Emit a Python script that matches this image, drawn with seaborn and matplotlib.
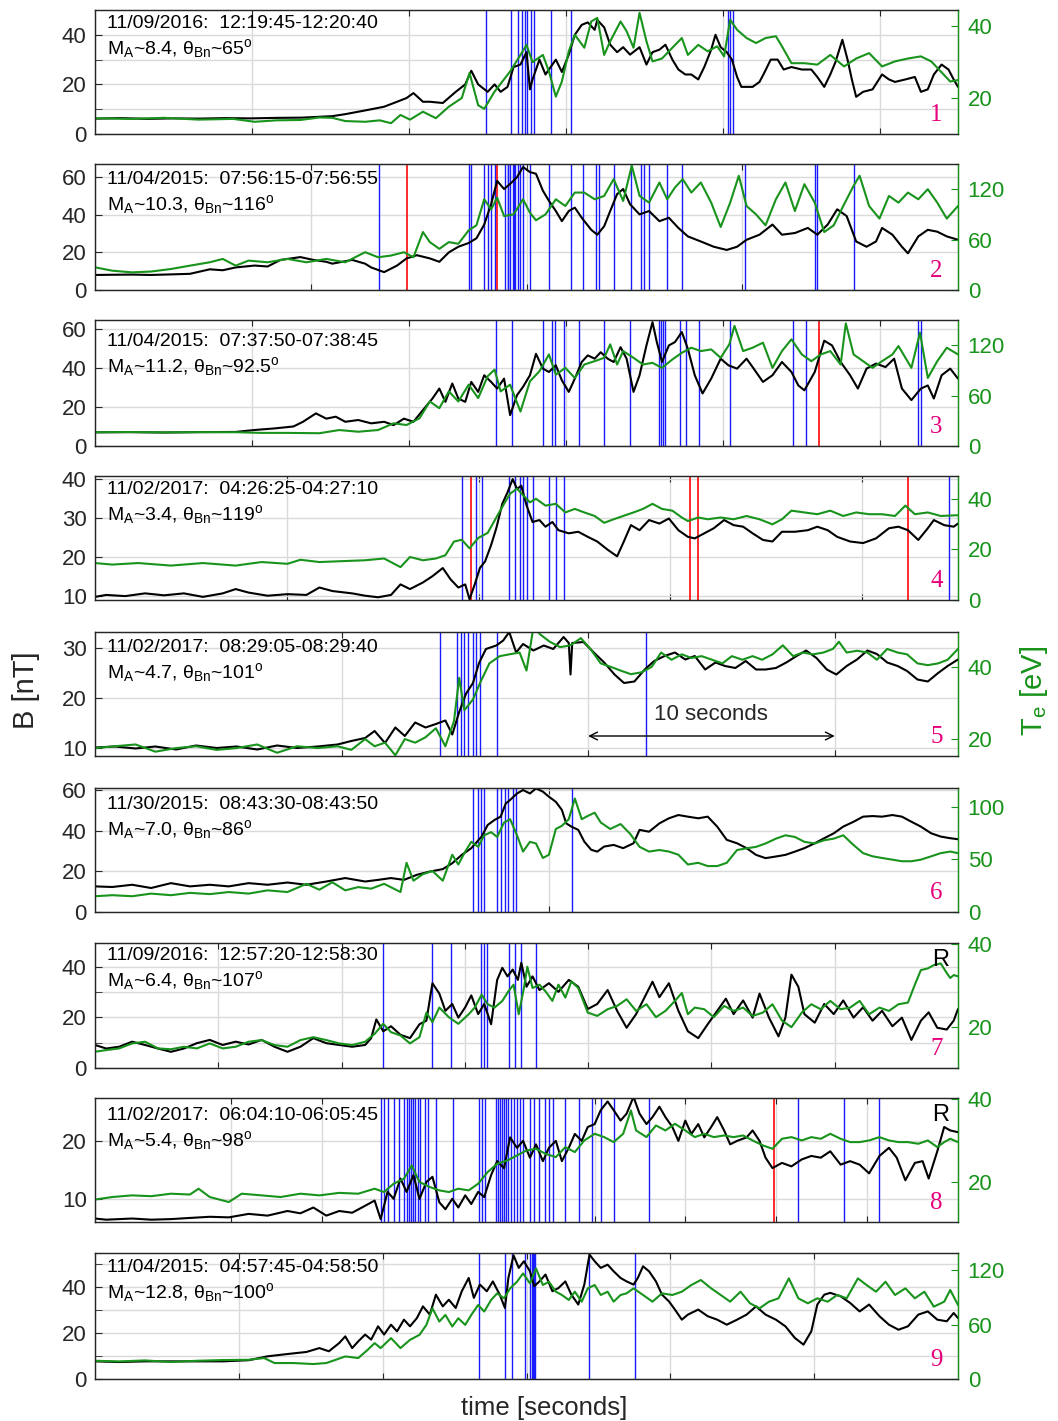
import numpy as np
import matplotlib
matplotlib.use("Agg")
import matplotlib.pyplot as plt
import seaborn as sns

sns.set_style("white")
plt.rcParams["font.family"] = ["Liberation Sans", "DejaVu Sans"]
plt.rcParams["mathtext.fontset"] = "custom"
plt.rcParams["mathtext.rm"] = "Liberation Sans"
plt.rcParams["mathtext.it"] = "Liberation Sans:italic"

GREEN = "#18931b"
BLUE = "#1a1aff"
RED = "#ff1a1a"
MAGENTA = "#e4007c"
GRID = "#dadada"

# ---- event labels -------------------------------------------------------
headers = ["11/09/2016:  12:19:45-12:20:40", "11/04/2015:  07:56:15-07:56:55",
           "11/04/2015:  07:37:50-07:38:45", "11/02/2017:  04:26:25-04:27:10",
           "11/02/2017:  08:29:05-08:29:40", "11/30/2015:  08:43:30-08:43:50",
           "11/09/2016:  12:57:20-12:58:30", "11/02/2017:  06:04:10-06:05:45",
           "11/04/2015:  04:57:45-04:58:50"]
mach = ["8.4", "10.3", "11.2", "3.4", "4.7", "7.0", "6.4", "5.4", "12.8"]
theta = ["65", "116", "92.5", "119", "101", "86", "107", "98", "100"]
durations = [55, 40, 55, 45, 35, 19, 70, 95, 60]   # window length [s]

# ---- magnetic field |B| [nT]: (percent of window, value) ------------------
b1 = [(0,6.2),(3,6.4),(6,6.1),(9,6.3),(12,6.2),(15,6.4),(18,6.3),(21,6.5),(24,6.6),(27.5,7.2),(29,8.0),(31.3,9.5),(33.5,11),(35,13),(36.1,14.5),(36.9,16.5),(38,13),(38.8,13),(40.3,12.5),(41.8,17),(42.9,20),(43.6,25.5),(44.4,20),(45.5,17),(46.3,20),(47,17),(47.8,19),(48.5,27),(49.3,28),(50,33),(50.4,18),(50.7,22),(51.5,30),(52.2,24),(53.4,30),(54.1,25),(54.9,32),(55.6,40),(56.4,44),(57.1,45),(57.9,42),(58.2,46),(59,43),(59.7,36),(60.5,33),(61.2,35),(62,32),(63.1,35),(63.9,28),(64.6,33),(65.4,34),(66.1,36),(66.9,30),(67.6,26),(68.4,24),(69.1,24),(69.9,22),(70.6,27),(71.4,34),(71.9,40),(72.5,35),(73.2,33),(73.8,30),(74.4,23),(74.9,19),(76.2,19),(77,21),(77.6,25),(78.3,30),(79.1,30),(79.8,26),(80.7,27),(81.9,26),(83,26),(83.7,23),(84.5,19),(85.2,24),(85.8,29),(86.6,38),(87.2,30),(87.7,22),(88.2,15),(89,17),(90.1,18),(91.2,24),(92,22),(92.7,21),(93.9,22),(95,23),(95.7,17),(96.5,18),(97.2,24),(98.1,28),(98.9,26),(99.5,22),(100,19)]
b2 = [(0,8),(2,8.1),(4.3,8.2),(6.5,8.0),(8.8,8.3),(11,8.6),(13.3,11),(14.8,10.5),(16.3,12),(18.5,13),(20,12.5),(21.5,16),(23.8,17.5),(25.3,16),(26.8,15),(27.5,14),(29.8,16),(31.3,14),(32,12),(33.5,9.5),(35,13),(36.1,16.8),(37.3,18.5),(38.8,16.8),(39.9,15),(41,20),(42.1,23),(43.3,25),(44.2,27.5),(45.1,34.8),(45.9,45.6),(46.6,58),(47.4,53.7),(48.1,56.4),(48.9,60),(49.6,65.4),(50.4,62.7),(51.1,61.8),(51.9,52.8),(52.6,47.4),(53.4,42),(54.1,36.6),(54.9,42),(55.6,43.8),(56.4,38.4),(57.5,32),(58.2,29.4),(59,33.9),(59.7,42),(60.5,51),(61.2,53.7),(62,45.6),(63.1,40.2),(64.2,42),(65.4,36.6),(66.5,38.4),(67.6,33),(68.7,28.5),(70.2,25.8),(71.7,23),(73.2,21.3),(74.4,23),(75.5,26.7),(77,29.4),(78.5,34.8),(79.6,29.4),(81.1,30.3),(82.6,33),(83.7,29.4),(84.9,34.8),(86,42.9),(87.1,39.3),(88.2,25.8),(89.4,23),(90.5,25.8),(91.2,33),(92.4,29.4),(93.5,23),(94.2,19.5),(95.4,28.5),(96.5,32),(97.6,31),(98.7,28.5),(100,26.7)]
b3 = [(0,7),(4,7.1),(8,6.9),(12,7.1),(16.3,7.2),(18.5,8.2),(20.8,9),(23,10),(24.1,12.4),(25.6,16.7),(26.8,14),(27.9,15),(29,12.4),(30.5,13.3),(32,11.6),(33.5,12.4),(34.6,10.7),(35.8,14),(36.9,12.4),(38,18.4),(39.1,24.3),(39.9,29.4),(40.6,22.6),(41.4,32),(42.1,24.3),(42.9,22.6),(43.6,32.8),(44.4,27.7),(45.1,36.2),(45.9,32.8),(46.6,29.4),(47.4,34.5),(48.1,15.8),(48.9,26),(49.6,30.3),(50.4,36.2),(51.1,47.2),(51.9,39.6),(52.6,37.9),(53.4,41.3),(54.1,33.6),(54.9,27.7),(55.6,34.5),(56.4,43),(57.1,46.4),(57.9,44.7),(58.6,48),(59.4,44.7),(60.1,43),(60.9,50.6),(61.6,44.7),(62.4,27.7),(63.1,36.2),(63.9,51.5),(64.6,63.4),(65.1,53.2),(65.7,43),(66.5,51.5),(67.2,53.2),(68,58.3),(68.7,49.7),(69.5,36.2),(70.4,26.9),(71.4,34.5),(72.5,44.7),(73.4,41.3),(74.4,39.6),(75.5,44.7),(76.2,40.4),(77.4,32.8),(78.5,36.2),(79.6,43),(80.7,37.9),(81.5,31),(82.2,28.5),(83.4,37.9),(84.5,53.9),(85.4,51.5),(86.4,43),(87.5,36.2),(88.4,29.4),(89.4,39.6),(90.5,42.2),(91.6,40.4),(92.6,44.7),(93.5,29.4),(94.6,23.5),(95.7,29.4),(96.5,31),(97.2,24.3),(98.1,36.2),(99.1,39.6),(100,34.5)]
b4 = [(0,9.8),(1.3,10.3),(3.5,10),(5.8,10.7),(8,10.2),(10.3,10.7),(12.5,9.8),(14.8,10.7),(16.3,11.8),(17.8,10.9),(20,10.1),(22.3,10.5),(24.5,10.3),(26,12.2),(27.5,11.3),(29.8,10.7),(31.3,10.1),(32.8,9.7),(34.3,10.3),(35.4,13),(36.5,11.8),(38,13.5),(39.1,15.1),(40.3,17.2),(41.2,14.3),(42.1,12.2),(42.9,13),(43.4,9.2),(44,13),(44.6,17.2),(45.2,18.9),(45.9,23.1),(46.5,27.4),(47.2,33.7),(47.8,36.6),(48.4,40),(48.9,37.5),(49.4,38.3),(50,33.3),(50.7,29),(51.5,29.5),(52.2,27.8),(53,29),(53.7,26.9),(54.9,26.1),(56,26.5),(57.1,25.2),(58.2,24),(59.4,21.9),(60.5,20.2),(61.2,23.6),(62.1,28.2),(63.1,26.9),(64.2,29.5),(65.4,28.6),(66.5,29.9),(67.6,26.9),(68.7,25.2),(69.5,24.8),(70.6,26.1),(71.7,27.4),(72.9,29.5),(74,28.2),(75.1,27.8),(76.2,26.1),(77.4,24.4),(78.5,24),(79.6,26.5),(81.1,26.5),(82.6,26.9),(83.7,27.8),(84.9,26.9),(86,25.2),(87.5,24),(89,23.6),(90.5,24.8),(92,27.4),(93.1,27.8),(94.2,26.9),(95.4,24.4),(96.5,27.4),(97.2,29.5),(98.4,28.2),(99.5,27.8),(100,28.6)]
b5 = [(0,10.1),(2.3,10.3),(4.7,9.9),(7,10.3),(9.4,9.7),(11.7,10.5),(14.1,10),(16.4,10.3),(18.8,9.7),(21.1,10.5),(23.4,10),(25.8,10.3),(28.1,10.7),(29.7,11.4),(31.3,12),(32.4,13.4),(33.6,11),(34.8,14.1),(35.9,12.4),(37.1,15.1),(38.3,14.1),(39.5,14.8),(40.6,15.5),(41.4,12.7),(42.2,17.2),(43,20.9),(43.8,23),(44.5,27),(45.3,29.8),(46.5,30.5),(47.3,31.5),(48,33.2),(48.8,29.1),(49.6,30.8),(50.8,29.5),(52,30.5),(53.1,29.8),(54.3,32.2),(54.9,31),(55.1,24.7),(55.3,31),(56.6,31.2),(57.8,29.1),(59,27.1),(60.2,24.7),(61.3,23),(62.5,23.3),(63.7,25.7),(64.8,27.4),(66,28.4),(67.2,29.1),(68.4,27.7),(69.5,28.4),(70.7,25.7),(71.9,27.1),(73,26.4),(74.2,26),(75.4,27.4),(76.6,25.7),(77.7,25.7),(78.9,26),(80.1,27.1),(81.3,28.4),(82.4,29.5),(83.6,28),(84.8,25.7),(85.9,24.7),(87.1,26.4),(88.3,27.7),(89.5,29.5),(90.6,28.8),(91.8,27.1),(93,26.4),(94.1,25.4),(95.3,23.7),(96.5,23.3),(97.7,25),(98.8,26.4),(100,27.7)]
b6 = [(0,12.6),(2,12.3),(4.3,13.4),(6.5,11.8),(8.8,14.2),(11,12.6),(13.3,13.4),(15.5,12.6),(17.8,14.2),(20,13.4),(22.3,14.5),(24.5,13.4),(26.8,15),(29,16.7),(31.3,15),(32.8,15.8),(34.3,16.7),(35.8,15.8),(37.3,18.3),(38.8,19.9),(40.3,21.1),(41.4,24),(42.5,28.1),(43.6,31.4),(44.8,37.1),(45.5,42.8),(46.3,45.3),(47,46.9),(47.6,53.4),(48.1,55.1),(48.9,58.3),(49.6,60),(50.4,58.3),(51.1,60.8),(51.9,59.2),(52.6,56.7),(53.4,54.2),(54.1,50.2),(54.6,43.6),(55.2,42),(56,40.4),(56.7,34.6),(57.5,30.6),(58.2,29.7),(59,32.2),(60.1,33),(61.2,31.4),(62.4,33.8),(63.1,40.4),(64.2,39.5),(65.4,43.6),(66.5,46.1),(67.6,47.7),(68.7,46.9),(69.9,46.1),(71,46.9),(72.1,42),(73.2,35.5),(74.4,33.8),(75.5,31.4),(76.6,28.1),(77.7,26.5),(78.9,27.3),(80,28.1),(81.1,29.7),(82.2,31.4),(83.4,33.8),(84.5,36.3),(85.6,38.7),(86.7,42),(87.9,44.4),(89,46.9),(90.1,47.2),(91.2,46.9),(92.4,47.7),(93.5,46.9),(94.6,44.4),(95.7,42),(96.9,38.7),(98,37.1),(99.1,36.3),(100,35.8)]
b7 = [(0,9.1),(1.3,7.7),(2.8,8.4),(4.3,10.4),(5.8,9.1),(7.3,7.7),(8.8,6.4),(10.3,7.7),(11.8,9.8),(13.3,11.1),(14.8,9.1),(16.3,10.4),(17.8,9.3),(19.3,11.1),(20.8,8.4),(22.3,6.4),(23.8,8.4),(25.3,11.8),(26.8,9.8),(28.3,9.1),(29.8,8.4),(31.3,9.1),(32,11.8),(32.6,19.2),(33.4,14.5),(34.3,16.5),(35.4,13.1),(36.5,11.8),(37.6,17.3),(38.4,18.7),(39.1,33.5),(39.9,29.4),(40.6,22.6),(41.4,25.3),(42.1,19.9),(42.9,24),(43.6,28.7),(44.4,21.3),(45.1,25.3),(45.9,17.3),(46.6,34.8),(47.2,39.6),(47.8,36.2),(48.4,38.9),(49,34.8),(49.4,41.6),(50,32.1),(50.7,36.2),(51.5,30.8),(52.6,33.5),(53.7,30.1),(54.9,34.8),(56,32.1),(57.1,23.3),(58.2,25.3),(59.4,30.8),(60.5,22.6),(61.6,15.9),(62.7,21.3),(63.9,29.4),(64.6,34.1),(65.4,28),(66.5,33.5),(67.6,22.6),(68.7,14.5),(69.9,11.8),(71,17.3),(72.1,22.6),(73.1,27.4),(74,21.3),(75.1,26.7),(76.2,19.9),(77,29.4),(78.1,19.9),(79.2,12.5),(80,19.9),(80.7,36.9),(81.5,32.1),(82.2,21.3),(83.4,17.9),(84.5,25.3),(85.6,21.3),(86.7,26.7),(87.9,19.9),(89,24),(90.1,18.7),(91.2,22.6),(92.4,16.5),(93.5,19.9),(94.6,11.1),(95.7,18.7),(96.6,22),(97.6,15.9),(98.7,15.2),(99.5,18.7),(100,23.3)]
b8 = [(0,6.6),(1.3,6.4),(4.3,6.6),(6.5,6.4),(8.8,6.5),(11,6.7),(13.3,6.9),(15.5,6.8),(17.8,7.4),(20,7.1),(22.3,7.9),(23.8,7.5),(25.3,8.5),(26.8,7.1),(28.3,7.9),(29.8,7.6),(31.3,8.8),(32.4,9.7),(33.1,6.5),(33.9,11.2),(34.6,10),(35.4,13.5),(36.1,11.2),(36.9,14.1),(37.6,10),(38.4,12.9),(39.1,13.8),(39.9,9.4),(40.6,8.2),(41.4,10),(42.1,8.5),(42.9,10.6),(43.6,9.1),(44.4,11.2),(45.1,10.3),(45.9,14.1),(46.6,16.5),(47.4,15.3),(48.1,20.6),(48.9,18.8),(49.6,20),(50.4,17.1),(51.1,19.4),(51.9,16.5),(52.6,18.8),(53.4,20),(54.1,16.5),(54.9,18.8),(55.6,21.2),(56.4,20),(57.1,22.4),(57.9,22.9),(58.6,25.3),(59.4,26.8),(60.1,25.3),(60.9,23.5),(61.6,24.7),(62.4,27.6),(63.1,24.7),(63.9,22.9),(64.6,24.1),(65.4,25.9),(66.1,24.1),(66.9,22.4),(67.6,20),(68.4,23.5),(69.1,21.2),(69.9,22.9),(70.6,20.6),(71.4,22.4),(72.1,24.1),(72.9,21.8),(73.6,19.4),(74.4,20),(75.5,20.6),(76.2,21.8),(77,20),(77.7,17.1),(78.5,15.3),(79.6,16.2),(80.7,15.6),(81.9,16.8),(83,17.4),(84.1,17.1),(85.2,18.2),(86.4,15.9),(87.5,16.5),(88.6,15.9),(89.7,14.4),(90.9,17.4),(92,18.8),(92.9,17.1),(93.9,13.2),(95,16.2),(95.9,16.5),(96.6,13.5),(97.6,18.2),(98.4,22.4),(99.1,21.8),(100,21.5)]
b9 = [(0,7.7),(2.8,7.4),(5.8,7.7),(8.8,7.7),(11.8,7.7),(14.8,7.7),(17.8,8.2),(20,9.9),(22.3,10.9),(24.5,11.8),(26,13.5),(27.1,12.1),(28.3,15.7),(29,18.6),(29.8,13.5),(30.5,16.4),(31.3,19.4),(32,17.2),(32.8,23),(33.5,19.4),(34.3,23.7),(35,20.8),(35.8,25.9),(36.5,23),(37.3,26.6),(38,31.7),(38.8,28.1),(39.5,36.8),(40.3,31.7),(41,34.6),(41.8,31),(42.5,38.3),(43.3,44.1),(43.9,35.4),(44.6,41.2),(45.4,38.3),(46.1,42.6),(46.9,36.8),(47.5,31),(47.9,44.1),(48.5,54),(49.1,48.5),(49.7,51.4),(50.4,47),(50.9,40.5),(51.5,42.6),(52.2,45.6),(53,38.3),(53.7,39.7),(54.5,42.6),(55.2,36.8),(56,32.5),(56.7,41.2),(57.3,54.3),(57.9,51.4),(58.6,48.5),(59.4,49.9),(60.1,47),(60.9,44.1),(61.6,42.6),(62.4,41.2),(62.9,44.1),(63.5,49.2),(64.2,47),(65,42.6),(65.7,36.8),(66.5,33.9),(67.2,30.3),(68,25.9),(68.7,28.1),(69.9,30.3),(71,27.4),(72.1,25.9),(73.2,23.7),(74.4,25.9),(75.5,28.1),(76.6,31.7),(77.7,28.1),(78.9,25.9),(80,23),(81.1,17.9),(82.1,15),(83,20.8),(83.7,32.5),(84.5,36.8),(85.2,37.6),(86.4,36.1),(87.5,33.2),(88.6,29.5),(89.7,32.5),(90.9,27.4),(92,23.7),(93.1,21.5),(94.2,23),(95.4,28.1),(96.5,29.5),(97.6,25.9),(98.7,25.2),(99.5,28.8),(100,26.6)]

# ---- electron temperature Te [eV]: (percent of window, value) -----------
te1 = [(0,14.4),(4,14.2),(8,14.5),(12,14.0),(16,14.2),(18.5,13.4),(21,13.8),(23.8,13.9),(26,14.6),(27.5,14.5),(29,13.6),(31.3,13.4),(33,13.8),(34.3,13),(35.4,15.3),(36.5,14),(38,16.2),(39.5,14.4),(41,17.6),(42.5,20),(43.4,27),(44.4,18),(45.1,17),(46.3,21.8),(47.2,24.6),(48.1,27.4),(49.3,32),(50,34.8),(50.7,30),(51.9,32),(52.6,27.4),(53.4,20.4),(54.1,24.6),(54.9,33),(55.6,37.6),(56.7,34),(57.5,41.3),(58.2,42.3),(59,32),(59.7,35.8),(60.9,41.3),(61.6,38.6),(62.4,34),(63.1,43.7),(63.9,35.8),(64.6,30.2),(65.7,31),(66.9,34),(68,36.7),(68.7,32),(69.9,34.8),(71,33),(72.1,34.4),(72.9,31.6),(73.6,41.8),(74.4,39),(75.5,36.7),(76.6,35.3),(77.7,36.7),(78.9,37.2),(79.6,34.4),(80.7,29.7),(82.2,29.7),(83.7,29.3),(85.2,32),(86.8,28.8),(88.2,31),(89.7,32.5),(91.2,28.8),(92.7,30.2),(94.2,31),(95.7,31.6),(96.9,30.2),(98,27.4),(99.1,24.6),(100,25)]
te2 = [(0,27),(2,23),(4.3,21),(6.5,22),(8.8,25),(11,29),(13.3,33),(14.8,37),(16.3,29),(17.8,35),(20,33),(22.3,37),(24.5,33),(26.8,37),(29,33),(31.3,45),(32.8,39),(34.3,41),(35.8,45),(36.9,39),(38,69),(38.8,57),(39.9,49),(41,57),(42.1,55),(43.3,71),(44.2,77),(45.1,108),(45.9,96),(46.6,110),(47.4,88),(48.5,90),(49.6,108),(50.4,92),(51.1,83),(52.2,90),(53.4,108),(54.5,100),(55.6,116),(56.7,116),(57.9,108),(59,112),(60.1,132),(61.2,106),(62.2,148),(63.1,112),(64.2,104),(65.4,128),(66.3,108),(67.2,122),(68.1,132),(69.1,116),(70.2,128),(71.4,104),(72.5,75),(73.6,104),(74.6,136),(75.5,100),(76.6,90),(77.7,77),(78.9,108),(80,128),(81.1,94),(82.2,126),(83.4,104),(84.5,69),(85.6,77),(86.7,100),(87.9,124),(88.6,136),(89.7,100),(90.9,85),(92,112),(93.1,104),(94.2,116),(95.4,108),(96.5,120),(97.6,104),(98.7,85),(100,100)]
te3 = [(0,16.4),(4,16.6),(8,16.2),(12,16.5),(16.3,16.4),(19.3,15.6),(22.3,15.6),(26,15.2),(28.3,19),(30.5,17),(32.8,19),(34.6,27),(36.1,25),(37.6,33),(38.8,53),(39.9,45),(41,65),(42.1,53),(43.3,73),(44.4,57),(45.5,83),(46.3,91),(47,65),(48.1,73),(49.3,41),(50.4,77),(51.5,89),(52.6,109),(53.4,85),(54.5,93),(55.6,81),(56.7,97),(57.9,101),(59,105),(59.7,121),(60.5,97),(61.2,113),(62.4,105),(63.5,97),(64.6,99),(65.7,93),(66.9,103),(68,111),(69.1,117),(70.2,113),(71.4,115),(72.5,105),(73.5,121),(74.1,143),(75.1,113),(76.2,117),(77.4,123),(78.5,93),(79.6,113),(80.7,127),(81.9,109),(83,101),(84.1,109),(85.2,113),(86.4,97),(87,146),(87.9,109),(89,101),(90.1,93),(91.2,101),(92.4,109),(93.1,119),(94.6,93),(95.6,135),(96.5,81),(97.6,101),(98.7,117),(100,109)]
te4 = [(0,14.6),(2,14),(5,14.6),(8.8,13.6),(12.5,14.6),(16.3,13.6),(19.3,15),(22.3,14.3),(23.8,15.9),(26,15),(29,15.4),(31.3,15.7),(33.5,16.4),(35.4,13),(36.5,17),(38,15.7),(39.5,16.4),(40.6,17.7),(41.6,23.1),(42.5,23.8),(43.4,20.4),(44.4,24.5),(45.5,26.5),(46.6,33.2),(47.4,38),(48.1,42),(48.9,44),(49.6,41.4),(50.4,38.6),(51.1,40),(52.2,37.3),(53.4,38),(54.5,34.6),(55.6,36),(56.7,34.6),(57.9,33.2),(59,30.5),(60.1,31.9),(61.2,33.2),(62.4,34.6),(63.5,36),(64.6,38),(65.7,36),(66.9,35.3),(68,32.6),(68.7,31.2),(69.9,32.6),(71,31.9),(72.5,32.6),(74,31.9),(75.5,33.2),(77,31.9),(78.5,29.9),(79.6,31.9),(80.7,35.3),(82.2,34.6),(83.7,33.9),(85.2,35.3),(86.7,33.2),(88.2,34.6),(89.7,33.9),(91.2,33.9),(92.7,33.2),(93.9,37.3),(95,33.9),(96.5,34.6),(98,33.2),(100,33.5)]
te5 = [(0,17.5),(2.3,18),(4.7,18.5),(7,16.5),(9.4,17.5),(11.7,18),(14.1,17),(16.4,17.5),(18.8,18.5),(21.1,16.2),(23.4,18),(25.8,17.5),(28.1,18),(29.7,17),(31.3,20),(32.4,18),(33.6,19),(34.8,15.5),(35.9,20),(37.1,19),(38.3,20.5),(39.5,23),(40.6,18),(41.6,25),(42.2,37),(42.8,28),(43.8,31),(44.7,36),(45.7,41),(46.9,43),(48,43.5),(49.2,44),(50,39),(50.8,51),(51.6,49),(52.7,47),(53.9,45.5),(55.1,46),(56.3,48),(57.4,45),(58.6,41),(59.8,40),(60.9,39),(62.1,38),(63.3,38.5),(64.5,40),(65.6,44),(66.8,42),(68,43.5),(69.1,42.5),(70.3,43),(71.5,42),(72.7,41),(73.8,43),(75,42),(76.2,43),(77.3,42),(78.5,43.5),(79.7,46),(80.9,43),(82,44),(83.2,43.5),(84.4,44),(85.5,45),(86.2,47),(87.1,44),(88.3,44.5),(89.5,44),(90.6,42),(91.8,45),(93,44),(94.1,43.5),(95.3,41),(96.5,40.5),(97.7,41),(98.8,42),(100,45)]
te6 = [(0,15),(2,16),(4.3,15),(6.5,17.5),(8.8,16),(11,18.2),(13.3,17),(15.5,19),(17.8,17.5),(20,20.6),(22.3,19),(24.5,26.8),(26,21.2),(27.5,28.3),(29,20.6),(30.5,23.7),(32,22.2),(33.5,26.8),(35.4,19),(36.1,46.8),(36.9,29.8),(38,36),(39.1,39),(40.3,29.8),(41.4,54.5),(42.1,45.2),(42.9,57.5),(43.6,66.8),(44.4,62),(45.1,73),(45.9,76),(46.6,71.4),(47.4,85.2),(48.1,88.3),(48.9,73),(49.6,57.5),(50.4,66.8),(51.1,65.2),(51.9,51.4),(52.6,54.5),(53.4,79),(54.1,82),(54.9,88.3),(55.6,108),(56.4,88.3),(57.1,91.4),(57.9,94.5),(58.6,85.2),(59.7,79),(60.9,83.7),(62,74.5),(63.1,62),(64.2,57.5),(65.4,59),(66.5,57.5),(67.6,54.5),(68.7,45.2),(69.9,46.8),(71,43.7),(72.1,43.7),(73.2,46.8),(74.4,59),(75.5,60.6),(76.6,62),(77.7,65.2),(78.9,69.8),(80,73),(81.1,71.4),(82.2,66.8),(83.4,65.2),(84.5,68.3),(85.6,69.8),(86.7,73),(87.9,63.7),(89,56),(90.1,53),(91.2,51.4),(92.4,49.8),(93.5,48.3),(94.6,48.3),(95.7,49.8),(96.9,53),(98,56),(99.1,57.5),(100,56)]
te7 = [(0,14.1),(1.3,14.5),(2.8,14.9),(4.3,16.1),(5.8,16.5),(7.3,14.9),(8.8,14.7),(10.3,15.3),(11.8,14.9),(13.3,16.1),(14.8,14.9),(16.3,15.3),(17.8,16.5),(19.3,16.9),(20.8,15.7),(22.3,15.3),(23.8,16.9),(25.3,17.6),(26.8,16.9),(28.3,16.1),(29.8,15.7),(31.3,16.5),(32.4,18.4),(33.4,20.8),(34.3,18.8),(35.4,18),(36.5,16.1),(37.6,17.6),(38.4,23.5),(39.1,21.2),(39.9,24.7),(41,22.4),(42.1,20.8),(43.3,23.1),(44,24.7),(44.8,27.8),(45.5,25.5),(46.3,24.7),(47.2,26.3),(47.9,28.6),(48.5,30.2),(49.1,23.1),(49.7,29.4),(50.1,34.5),(50.7,29.4),(51.5,30.2),(52.2,28.6),(53,26.3),(53.7,30.2),(54.5,27.1),(55.2,31),(56,29.4),(57.1,23.5),(58.2,22.7),(59.4,24.3),(60.5,25.1),(61.6,26.7),(62.7,23.9),(63.9,25.5),(65,22.4),(66.1,23.9),(67.2,26.3),(68,28.2),(68.7,23.1),(69.5,24.7),(70.6,24.3),(71.7,22.4),(72.9,25.1),(74,23.9),(75.1,24.7),(76.2,22.7),(77.4,23.5),(78.5,25.5),(79.6,21.6),(80.7,20),(81.9,23.5),(83,25.5),(84.1,24.3),(85.2,26.3),(86.4,24.3),(87.5,24.7),(88.6,26.3),(89.7,23.1),(90.9,24.7),(92,23.9),(93.1,25.5),(94.2,25.9),(95,30.2),(95.7,33.7),(96.5,34.1),(97.2,34.9),(98,35.3),(98.6,33.3),(99.1,31.8),(99.5,32.5),(100,32.2)]
te8 = [(0,15.8),(2,16.4),(4.3,16.8),(6.5,16.6),(8.8,17.2),(11,17),(12,18.4),(13.3,16.4),(15.5,15.2),(17,17.2),(19.3,16.8),(21.5,16.4),(23.8,17.2),(26,16.8),(28.3,17.4),(30.5,17.2),(32.4,18.4),(33.5,17.6),(34.6,19.6),(35.8,20.8),(36.7,24),(37.6,20),(38.8,18.8),(39.9,18),(41,17.6),(42.1,18.4),(43.3,18),(44.4,19.6),(45.5,22.4),(46.6,24.4),(47.8,25.2),(48.9,26.4),(50,27.6),(51.1,28),(52.2,26.8),(53.4,26),(54.5,28.4),(55.6,27.2),(56.7,30),(57.9,31.6),(59,30.8),(60.1,29.6),(61.2,31.6),(62.1,37.2),(62.7,32.4),(63.9,30.8),(65,33.6),(66.1,32.4),(67.2,34),(68.4,32.4),(69.5,30.8),(70.6,31.6),(71.7,30.8),(72.9,31.2),(74,30.8),(75.1,31.2),(76.2,30),(77.4,28.8),(78.5,28),(79.6,30.4),(80.7,30.8),(81.9,30),(83,30.8),(84.1,30.4),(85.2,31.6),(86.4,30.4),(87.5,29.6),(88.6,29.6),(89.7,30),(90.9,30.8),(92,30),(93.1,29.6),(94.2,29.6),(95.4,29.2),(96.5,30),(97.6,28.4),(98.4,29.6),(99.1,30.4),(100,29.6)]
te9 = [(0,20.1),(2.8,19.4),(5.8,20.5),(8.8,18.7),(11.8,20.1),(14.8,20.9),(17.8,21.2),(19.6,23.1),(20.8,17.6),(23,17.6),(25.3,16.5),(26.8,17.6),(27.9,21.2),(29,24.9),(30.5,23.1),(31.6,32.2),(32.4,39.6),(33.1,34.1),(34.3,45.1),(35.4,34.1),(36.5,43.2),(37.6,48.7),(38.4,59.7),(39.1,78),(39.9,63.4),(40.6,70.7),(41.4,57.9),(42.1,67),(42.9,59.7),(43.6,70.7),(44.4,81.7),(45.1,74.4),(45.9,87.2),(46.6,94.5),(47.4,89),(48.1,100),(48.9,107.3),(49.6,116.5),(50.4,105.5),(51.1,122),(51.9,103.7),(52.6,107.3),(53.4,96.3),(54.1,92.7),(54.9,87.2),(55.6,96.3),(56.4,85.3),(57.1,100),(57.9,103.7),(58.6,92.7),(59.4,96.3),(60.1,85.3),(60.9,92.7),(61.6,94.5),(62.4,100),(63.5,92.7),(64.6,85.3),(65.7,94.5),(66.9,92.7),(68,96.3),(69.1,103.7),(70.2,109.2),(71.4,100),(72.5,92.7),(73.6,85.3),(74.8,96.3),(75.9,83.5),(77,78),(78.1,85.3),(79.2,89),(80.4,111),(81.5,89),(82.6,83.5),(83.7,89),(84.9,85.3),(86,92.7),(87.1,89),(88.4,111),(89.4,103.7),(90.5,96.3),(91.6,107.3),(92.7,92.7),(93.9,100),(95,89),(96.1,96.3),(97.2,79.8),(98.4,85.3),(99.1,98.2),(100,81.7)]

# ---- marked times (percent of window) -----------------------------------
blue1 = [45.3, 48.2, 49.0, 49.5, 49.8, 50.1, 50.5, 50.9, 52.8, 55.1, 73.3, 73.6, 73.9]
blue2 = [32.9, 43.3, 43.6, 45.1, 45.5, 45.9, 46.3, 47.5, 47.8, 47.9, 48.1, 48.4, 48.5, 48.7, 49.0, 49.3, 49.6, 50.4, 52.6, 55.2, 56.6, 58.1, 58.4, 60.1, 62.1, 63.3, 63.6, 64.2, 66.3, 68.0, 75.3, 83.4, 83.7, 87.9]
blue3 = [46.5, 48.3, 51.9, 53.0, 53.3, 54.3, 56.1, 59.0, 62.0, 65.4, 65.6, 65.8, 66.0, 67.8, 68.5, 70.0, 73.6, 80.9, 82.4, 95.4, 95.7]
blue4 = [42.5, 44.2, 44.9, 48.0, 48.7, 49.3, 49.6, 50.0, 50.7, 52.6, 53.4, 54.3, 98.9]
blue5 = [40.0, 42.0, 42.4, 42.8, 43.2, 43.8, 44.1, 44.6, 46.6, 63.8]
blue6 = [43.8, 44.4, 44.7, 45.1, 46.6, 47.0, 47.5, 47.9, 48.4, 48.8, 55.3]
blue7 = [33.4, 39.0, 41.3, 44.7, 45.1, 45.4, 48.0, 48.7, 49.4, 51.1]
blue8 = [33.1, 33.5, 34.0, 34.6, 35.2, 35.8, 36.1, 36.4, 36.6, 36.9, 37.1, 37.4, 37.7, 38.2, 38.6, 39.5, 41.5, 44.5, 44.8, 45.2, 46.5, 46.7, 46.9, 47.2, 47.4, 47.6, 47.9, 48.2, 48.5, 48.9, 49.3, 49.6, 50.4, 50.9, 51.5, 52.1, 52.6, 53.1, 54.5, 56.1, 57.6, 58.6, 60.1, 64.2, 81.5, 86.8, 90.9]
blue9 = [44.5, 47.5, 48.3, 49.8, 50.4, 50.6, 50.8, 50.9, 51.0, 57.2, 62.6]
red1, red2, red3, red4 = [], [36.1, 46.6], [83.9], [43.6, 69.0, 69.9, 94.2]
red5, red6, red7, red8, red9 = [], [], [], [78.7], []

B_series = [b1, b2, b3, b4, b5, b6, b7, b8, b9]
Te_series = [te1, te2, te3, te4, te5, te6, te7, te8, te9]
blue_marks = [blue1, blue2, blue3, blue4, blue5, blue6, blue7, blue8, blue9]
red_marks = [red1, red2, red3, red4, red5, red6, red7, red8, red9]

# ---- axis scales ----------------------------------------------------------
left_lims = [(0, 50), (0, 67), (0, 64.5), (9, 40.8), (8.4, 33.2), (0, 61), (0, 49.4), (6.0, 27.4), (0, 55)]
left_major = [[0, 20, 40], [0, 20, 40, 60], [0, 20, 40, 60], [10, 20, 30, 40], [10, 20, 30],
              [0, 20, 40, 60], [0, 20, 40], [10, 20], [0, 20, 40]]
left_minor = [[10, 30], [], [], [], [], [], [10, 30], [], [10, 30, 50]]
right_lims = [(10, 44.5), (0, 150), (0, 150), (0, 49), (15.3, 49.7), (0, 118), (10.2, 40.2), (10.4, 40.2), (0, 139)]
right_major = [[20, 40], [0, 60, 120], [0, 60, 120], [0, 20, 40], [20, 40], [0, 50, 100],
               [20, 40], [20, 40], [0, 60, 120]]
grid_start = [10, 10, 10, 10, 10, 10, 10, 15, 10]

# ---- layout (pixels of the 1058 x 1421 canvas) -------------------------
W, H = 1058, 1421
LEFT, RIGHT = 95, 958
tops = [10, 164, 320, 476, 632, 788, 943, 1098, 1253]
heights = [124, 126, 126, 124, 124, 124, 125, 124, 126]
head_off = [13, 15, 21, 14, 15, 17, 12, 18, 15]

fig = plt.figure(figsize=(W / 100, H / 100), dpi=100)

for i in range(9):
    top, h = tops[i], heights[i]
    ax = fig.add_axes([LEFT / W, 1 - (top + h) / H, (RIGHT - LEFT) / W, h / H])
    axr = ax.twinx()
    dur = durations[i]

    for x in blue_marks[i]:
        ax.axvline(x / 100 * dur, color=BLUE, lw=1.0, zorder=1)
    for x in red_marks[i]:
        ax.axvline(x / 100 * dur, color=RED, lw=1.3, zorder=1)

    bt, bv = np.array(B_series[i]).T
    tt, tv = np.array(Te_series[i]).T
    sns.lineplot(x=bt / 100 * dur, y=bv, ax=ax, color="black", lw=1.5, zorder=3)
    sns.lineplot(x=tt / 100 * dur, y=tv, ax=axr, color=GREEN, lw=1.5)

    ax.set_xlim(0, dur)
    ax.set_xticks(np.arange(grid_start[i], dur, 10))
    ax.set_xticklabels([])
    ax.set_ylim(*left_lims[i])
    ax.set_yticks(left_major[i])
    ax.set_yticks(left_minor[i], minor=True)
    ax.grid(True, which="both", color=GRID, lw=1.0)
    ax.set_axisbelow(True)
    ax.tick_params(axis="x", direction="in", length=4, top=True, bottom=True)
    ax.tick_params(axis="y", which="both", direction="in", length=5, labelsize=16, pad=6,
                   left=True, right=False)
    ax.set_xlabel("")
    ax.set_ylabel("")

    axr.set_ylim(*right_lims[i])
    axr.set_yticks(right_major[i])
    axr.tick_params(axis="y", direction="in", length=5, labelsize=16, pad=7,
                    colors=GREEN, right=True, left=False)
    axr.grid(False)
    axr.set_ylabel("")
    for s in ["left", "top", "bottom"]:
        ax.spines[s].set_color("#333333")
        ax.spines[s].set_linewidth(1.0)
    axr.spines["right"].set_color(GREEN)
    axr.spines["right"].set_linewidth(1.0)

    y1 = 1 - head_off[i] / h
    y2 = 1 - (head_off[i] + 25) / h
    axr.text(0.014, y1, headers[i], transform=axr.transAxes, fontsize=14,
             ha="left", va="center", color="black")
    axr.text(0.014, y2,
             "M$_\\mathregular{A}$~" + mach[i] + ", θ$_\\mathregular{Bn}$~" + theta[i]
             + "$^\\mathregular{o}$",
             transform=axr.transAxes, fontsize=14, ha="left", va="center", color="black")
    axr.text(0.975, 0.15, str(i + 1), transform=axr.transAxes, fontsize=18,
             family="Liberation Serif", color=MAGENTA, ha="center", va="center")

    if i in (6, 7):
        axr.text(0.98, 0.86, "R", transform=axr.transAxes, fontsize=17,
                 ha="center", va="center", color="black")

    if i == 4:
        ax.annotate("", xy=(30, 12.4), xytext=(20, 12.4),
                    arrowprops=dict(arrowstyle="<->", color="black", lw=1.0,
                                    mutation_scale=14, shrinkA=0, shrinkB=0))
        ax.text(25, 16.6, "10 seconds", ha="center", va="center", fontsize=16)

fig.text(0.025, 0.514, "B [nT]", rotation=90, fontsize=21, ha="center", va="center")
fig.text(0.977, 0.514, "T$_\\mathregular{e}$ [eV]", rotation=90, fontsize=21,
         ha="center", va="center", color=GREEN)
fig.text(0.514, 0.0095, "time [seconds]", fontsize=18.5, ha="center", va="center")

fig.savefig("out.png", dpi=100)
